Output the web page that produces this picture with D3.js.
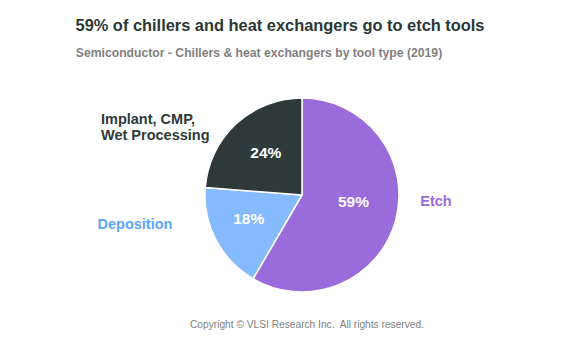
<!DOCTYPE html>
<html>
<head>
<meta charset="utf-8">
<script src="https://cdn.jsdelivr.net/npm/d3@7"></script>
<style>
  html, body { margin: 0; padding: 0; background: #fff; }
  svg { display: block; font-family: "Liberation Sans", Arial, sans-serif; }
  text { white-space: pre; }
</style>
</head>
<body>
<svg id="chart" width="570" height="348"></svg>
<script>
// Share of chillers & heat exchangers by tool type, 2019
const categories = ["Etch", "Deposition", "Implant, CMP, Wet Processing"];
const shares = [59, 18, 24];
const sliceColors = ["#9a6bdb", "#86baff", "#2e3a3a"];
const labelColors = ["#9a6bdb", "#5aa6ff", "#2e3a3a"];

const svg = d3.select("#chart");
const cx = 302, cy = 195, radius = 97;

svg.append("text")
  .attr("x", 280).attr("y", 31)
  .attr("text-anchor", "middle")
  .attr("font-size", 16.4).attr("font-weight", "bold")
  .attr("fill", "#2b3737")
  .text("59% of chillers and heat exchangers go to etch tools");

svg.append("text")
  .attr("x", 259).attr("y", 57)
  .attr("text-anchor", "middle")
  .attr("font-size", 12.2).attr("font-weight", "bold")
  .attr("fill", "#7f7f7f")
  .text("Semiconductor - Chillers & heat exchangers by tool type (2019)");

const pie = d3.pie().sort(null).value(d => d.value);
const data = categories.map((c, i) => ({ name: c, value: shares[i], color: sliceColors[i] }));
const arcs = pie(data);
const arc = d3.arc().innerRadius(0).outerRadius(radius);
const inner = d3.arc().innerRadius(radius * 0.55).outerRadius(radius * 0.55);

const g = svg.append("g").attr("transform", `translate(${cx},${cy})`);

g.selectAll("path")
  .data(arcs)
  .join("path")
  .attr("d", arc)
  .attr("fill", d => d.data.color)
  .attr("stroke", "#fff")
  .attr("stroke-width", 1.5);

// value labels inside slices, nudged from the arc centroid
const valueOffsets = [[0, -7], [-6, -1], [0, -3]];
g.selectAll("text.val")
  .data(arcs)
  .join("text")
  .attr("class", "val")
  .attr("transform", (d, i) => {
    const [x, y] = inner.centroid(d);
    return `translate(${x + valueOffsets[i][0]},${y + valueOffsets[i][1]})`;
  })
  .attr("text-anchor", "middle")
  .attr("dy", "0.35em")
  .attr("font-size", 15.5).attr("font-weight", "bold")
  .attr("fill", "#fff")
  .text(d => d.data.value + "%");

// category labels outside the pie
const catLabels = [
  { lines: ["Etch"], x: 436, y: 206, anchor: "middle" },
  { lines: ["Deposition"], x: 135, y: 229, anchor: "middle" },
  { lines: ["Implant, CMP,", "Wet Processing"], x: 101, y: 124, anchor: "start" }
];
catLabels.forEach((l, i) => {
  const t = svg.append("text")
    .attr("x", l.x).attr("y", l.y)
    .attr("text-anchor", l.anchor)
    .attr("font-size", 14.5).attr("font-weight", "bold")
    .attr("fill", labelColors[i]);
  l.lines.forEach((line, j) => {
    t.append("tspan").attr("x", l.x).attr("dy", j === 0 ? 0 : 16).text(line);
  });
});

svg.append("text")
  .attr("x", 307).attr("y", 328)
  .attr("text-anchor", "middle")
  .attr("font-size", 10.2)
  .attr("fill", "#7f7f7f")
  .text("Copyright \u00a9 VLSI Research Inc.  All rights reserved.");
</script>
</body>
</html>
